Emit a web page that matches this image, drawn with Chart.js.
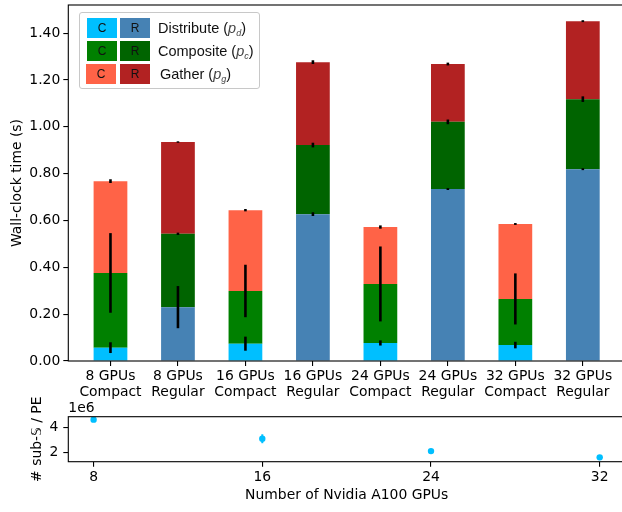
<!DOCTYPE html>
<html><head><meta charset="utf-8">
<script src="https://cdn.jsdelivr.net/npm/chart.js@4/dist/chart.umd.min.js"></script>
<style>
html,body{margin:0;padding:0;background:#fff;overflow:hidden;width:622px;height:512px}
#wrap{position:relative;width:622px;height:512px;overflow:hidden}
canvas{position:absolute;left:0}
#c1{top:0}
#c2{top:360px}
#legend{position:absolute;left:79px;top:12px;width:179px;height:75px;border:1px solid #c8c8c8;border-radius:3px;background:rgba(255,255,255,0.85);font-family:'Liberation Sans',Arial,sans-serif}
.sw{position:absolute;width:30px;height:20px;font-size:12px;line-height:20px;text-align:center;color:#111}
.lab{position:absolute;left:78px;font-size:14.5px;line-height:20px;white-space:nowrap;color:#111}
.lab i{color:#444}
.lab sub{font-size:9px;vertical-align:-3px}
</style></head>
<body><div id="wrap">
<canvas id="c1" width="640" height="400"></canvas>
<canvas id="c2" width="640" height="152"></canvas>
<div id="legend">
  <div class="sw" style="left:7px;top:5px;background:#00BFFF">C</div>
  <div class="sw" style="left:40px;top:5px;background:#4682B4">R</div>
  <div class="lab" style="top:5px">Distribute (<i>p</i><sub><i>d</i></sub>)</div>
  <div class="sw" style="left:7px;top:28px;background:#008000">C</div>
  <div class="sw" style="left:40px;top:28px;background:#006400">R</div>
  <div class="lab" style="top:28px">Composite (<i>p</i><sub><i>c</i></sub>)</div>
  <div class="sw" style="left:6px;top:51px;background:#FF6347">C</div>
  <div class="sw" style="left:40px;top:51px;background:#B22222">R</div>
  <div class="lab" style="top:51px;left:80px">Gather (<i>p</i><sub><i>g</i></sub>)</div>
</div>
</div>
<script>
// ---- data (top panel) ----
const gpuCounts = [8, 8, 16, 16, 24, 24, 32, 32];
const layouts = ['Compact', 'Regular', 'Compact', 'Regular', 'Compact', 'Regular', 'Compact', 'Regular'];
const distribute    = [0.057, 0.230, 0.074, 0.627, 0.077, 0.734, 0.068, 0.819];
const distributeErr = [0.023, 0.090, 0.030, 0.008, 0.011, 0.004, 0.014, 0.004];
const composite     = [0.319, 0.313, 0.225, 0.295, 0.252, 0.287, 0.197, 0.299];
const compositeErr  = [0.170, 0.005, 0.112, 0.010, 0.160, 0.010, 0.109, 0.012];
const gather        = [0.392, 0.392, 0.345, 0.354, 0.243, 0.247, 0.320, 0.333];
const gatherErr     = [0.008, 0.003, 0.005, 0.008, 0.007, 0.006, 0.004, 0.004];
const yTicksTop = [0, 0.2, 0.4, 0.6, 0.8, 1.0, 1.2, 1.4];

// ---- data (bottom panel) ----
const gpuAxis = [8, 16, 24, 32];
const subdomainsPerPE = [4.60e6, 3.10e6, 2.13e6, 1.64e6];
const subdomainsErr   = [0.04e6, 0.35e6, 0.12e6, 0.03e6];
const yTicksBottom = [2e6, 4e6];

// ---- styles ----
const compactColors = {d: '#00BFFF', c: '#008000', g: '#FF6347'};
const regularColors = {d: '#4682B4', c: '#006400', g: '#B22222'};
const FONT = {family: "'DejaVu Sans', sans-serif", size: 13.9};
Chart.defaults.font.family = FONT.family;
Chart.defaults.font.size = FONT.size;
Chart.defaults.color = '#000';

const colorsFor = k => layouts.map(l => l === 'Compact' ? compactColors[k] : regularColors[k]);
const toXY = arr => arr.map((v, i) => ({x: i, y: v}));

const series = [
  {label: 'Distribute', values: distribute, err: distributeErr, key: 'd'},
  {label: 'Composite', values: composite, err: compositeErr, key: 'c'},
  {label: 'Gather', values: gather, err: gatherErr, key: 'g'}
];

const frame = {
  id: 'frame',
  afterDatasetsDraw(chart) {
    const a = chart.chartArea, ctx = chart.ctx;
    ctx.save();
    ctx.strokeStyle = '#000';
    ctx.lineWidth = 1.1;
    ctx.strokeRect(a.left, a.top, a.right - a.left, a.bottom - a.top);
    ctx.restore();
  }
};

const barErr = {
  id: 'barErr',
  afterDatasetsDraw(chart) {
    const ctx = chart.ctx, ys = chart.scales.y;
    const cum = new Array(layouts.length).fill(0);
    ctx.save();
    ctx.strokeStyle = '#000';
    ctx.lineWidth = 2.6;
    series.forEach((s, d) => {
      const meta = chart.getDatasetMeta(d);
      s.values.forEach((v, i) => {
        cum[i] += v;
        const x = meta.data[i].x;
        ctx.beginPath();
        ctx.moveTo(x, ys.getPixelForValue(cum[i] - s.err[i]));
        ctx.lineTo(x, ys.getPixelForValue(cum[i] + s.err[i]));
        ctx.stroke();
      });
    });
    ctx.restore();
  }
};

new Chart(document.getElementById('c1'), {
  type: 'bar',
  data: {
    datasets: series.map(s => ({
      label: s.label,
      data: toXY(s.values),
      backgroundColor: colorsFor(s.key),
      borderWidth: 0,
      barPercentage: 0.5,
      categoryPercentage: 1.0
    }))
  },
  options: {
    responsive: false,
    animation: false,
    layout: {padding: {top: 5, left: 0, right: 15, bottom: 0}},
    plugins: {legend: {display: false}, tooltip: {enabled: false}},
    scales: {
      x: {
        type: 'linear', stacked: true, min: -0.625, max: 7.625, offset: false,
        afterBuildTicks: sc => { sc.ticks = layouts.map((l, i) => ({value: i})); },
        afterFit: sc => { sc.height = 39; },
        ticks: {
          autoSkip: false, maxRotation: 0, padding: 2,
          font: {size: 13.9, lineHeight: 1.16},
          callback: v => [gpuCounts[v] + ' GPUs', layouts[v]]
        },
        grid: {offset: false, drawOnChartArea: false, drawTicks: true, tickLength: 5, color: '#000', lineWidth: 1.1},
        border: {display: false}
      },
      y: {
        stacked: true, min: 0, max: 1.52,
        afterBuildTicks: sc => { sc.ticks = yTicksTop.map(v => ({value: v})); },
        afterFit: sc => { sc.width = 68.3; sc.paddingTop = 0; sc.paddingBottom = 0; },
        ticks: {padding: 3, callback: v => v.toFixed(2)},
        grid: {drawOnChartArea: false, drawTicks: true, tickLength: 5, color: '#000', lineWidth: 1.1},
        border: {display: false},
        title: {display: true, text: 'Wall-clock time (s)', padding: {top: 9, bottom: 0}}
      }
    }
  },
  plugins: [barErr, frame]
});

const ptErr = {
  id: 'ptErr',
  afterDatasetsDraw(chart) {
    const ctx = chart.ctx, ys = chart.scales.y, xs = chart.scales.x;
    ctx.save();
    ctx.strokeStyle = '#00BFFF';
    ctx.lineWidth = 2;
    gpuAxis.forEach((g, i) => {
      const x = xs.getPixelForValue(g);
      ctx.beginPath();
      ctx.moveTo(x, ys.getPixelForValue(subdomainsPerPE[i] - subdomainsErr[i]));
      ctx.lineTo(x, ys.getPixelForValue(subdomainsPerPE[i] + subdomainsErr[i]));
      ctx.stroke();
    });
    ctx.fillStyle = '#000';
    ctx.font = "13.9px 'DejaVu Sans', sans-serif";
    ctx.textBaseline = 'alphabetic';
    ctx.textAlign = 'left';
    ctx.fillText('1e6', chart.chartArea.left, chart.chartArea.top - 5);
    ctx.restore();
  }
};

new Chart(document.getElementById('c2'), {
  type: 'scatter',
  data: {
    datasets: [{
      label: '# sub-domains / PE',
      data: gpuAxis.map((g, i) => ({x: g, y: subdomainsPerPE[i]})),
      backgroundColor: '#00BFFF',
      borderWidth: 0,
      pointRadius: 3.2
    }]
  },
  options: {
    responsive: false,
    animation: false,
    layout: {padding: {top: 56.7, left: 0, right: 15, bottom: 0}},
    plugins: {legend: {display: false}, tooltip: {enabled: false}},
    scales: {
      x: {
        type: 'linear', min: 6.8, max: 33.2,
        afterBuildTicks: sc => { sc.ticks = gpuAxis.map(v => ({value: v})); },
        afterFit: sc => { sc.height = 50.3; },
        ticks: {padding: 2, maxRotation: 0},
        grid: {drawOnChartArea: false, drawTicks: true, tickLength: 5, color: '#000', lineWidth: 1.1},
        border: {display: false},
        title: {display: true, text: 'Number of Nvidia A100 GPUs', padding: {top: 0, bottom: 8}}
      },
      y: {
        min: 1.30e6, max: 4.83e6,
        afterBuildTicks: sc => { sc.ticks = yTicksBottom.map(v => ({value: v})); },
        afterFit: sc => { sc.width = 68.3; sc.paddingTop = 0; sc.paddingBottom = 0; },
        ticks: {padding: 5, callback: v => (v / 1e6).toFixed(0)},
        grid: {drawOnChartArea: false, drawTicks: true, tickLength: 5, color: '#000', lineWidth: 1.1},
        border: {display: false},
        title: {display: true, text: '# sub-𝕊 / PE', padding: {top: 29, bottom: 0}}
      }
    }
  },
  plugins: [ptErr, frame]
});
</script>
</body></html>
